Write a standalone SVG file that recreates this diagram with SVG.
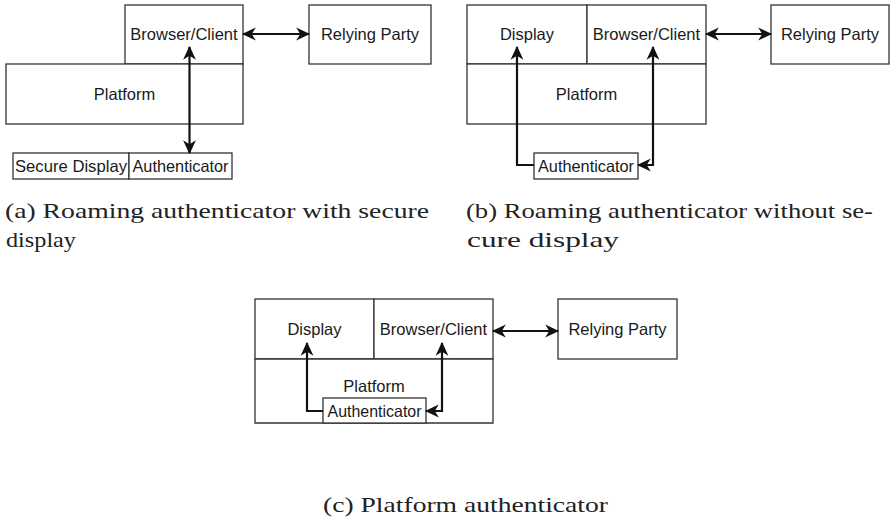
<svg xmlns="http://www.w3.org/2000/svg" width="895" height="522" viewBox="0 0 895 522">
<style>
.box{fill:#fff;stroke:#333;stroke-width:1.3}
.lbl{font-family:"Liberation Sans",Arial,sans-serif;font-size:16.5px;fill:#1a1a1a;text-anchor:middle}
.cap{font-family:"Liberation Serif","Times New Roman",serif;font-size:21px;fill:#222}
.con{fill:none;stroke:#111;stroke-width:2.2;marker-start:url(#ah);marker-end:url(#ah)}
.con1{fill:none;stroke:#111;stroke-width:2.2;marker-end:url(#ah)}
</style>
<defs>
<marker id="ah" markerUnits="userSpaceOnUse" markerWidth="14" markerHeight="14" viewBox="0 0 12 12" refX="11" refY="6" orient="auto-start-reverse">
<path d="M0,0.5 L12,6 L0,11.5 L3.5,6 z" fill="#111"/>
</marker>
</defs>
<rect width="895" height="522" fill="#fff"/>

<!-- Panel (a) -->
<g id="a-browser"><rect class="box" x="125" y="5" width="118" height="59"/><text class="lbl" x="184" y="40">Browser/Client</text></g>
<g id="a-platform"><rect class="box" x="6" y="64" width="237" height="60"/><text class="lbl" x="124.5" y="100">Platform</text></g>
<g id="a-rp"><rect class="box" x="309" y="5" width="122" height="59"/><text class="lbl" x="370" y="40">Relying Party</text></g>
<g id="a-securedisplay"><rect class="box" x="13" y="153" width="116" height="26"/><text class="lbl" x="71" y="172" textLength="112" lengthAdjust="spacingAndGlyphs">Secure Display</text></g>
<g id="a-auth"><rect class="box" x="129" y="153" width="103" height="26"/><text class="lbl" x="180.5" y="172" textLength="96" lengthAdjust="spacingAndGlyphs">Authenticator</text></g>

<!-- Panel (b) -->
<g id="b-display"><rect class="box" x="467" y="5" width="120" height="59"/><text class="lbl" x="527" y="40">Display</text></g>
<g id="b-browser"><rect class="box" x="587" y="5" width="119" height="59"/><text class="lbl" x="646.5" y="40">Browser/Client</text></g>
<g id="b-platform"><rect class="box" x="467" y="64" width="239" height="60"/><text class="lbl" x="586.5" y="100">Platform</text></g>
<g id="b-rp"><rect class="box" x="771" y="5" width="118" height="59"/><text class="lbl" x="830" y="40">Relying Party</text></g>
<g id="b-auth"><rect class="box" x="534" y="153" width="104" height="26"/><text class="lbl" x="586" y="172" textLength="96" lengthAdjust="spacingAndGlyphs">Authenticator</text></g>

<!-- Panel (c) -->
<g id="c-display"><rect class="box" x="255" y="299" width="119" height="60"/><text class="lbl" x="314.5" y="335">Display</text></g>
<g id="c-browser"><rect class="box" x="374" y="299" width="119" height="60"/><text class="lbl" x="433.5" y="335">Browser/Client</text></g>
<g id="c-platform"><path class="box" d="M255,359 H493 V423 H255 Z"/><text class="lbl" x="374" y="392">Platform</text></g>
<g id="c-rp"><rect class="box" x="558" y="299" width="119" height="60"/><text class="lbl" x="617.5" y="335">Relying Party</text></g>
<g id="c-auth"><rect class="box" x="323" y="398" width="103" height="25"/><text class="lbl" x="374.5" y="416.5" textLength="94" lengthAdjust="spacingAndGlyphs">Authenticator</text></g>

<g id="connectors">
<path class="con" d="M243,34 H309"/>
<path class="con" d="M189.5,47 V153"/>
<path class="con" d="M706,34 H771"/>
<path class="con1" d="M534,165 H517 V47"/>
<path class="con" d="M653,47 V165 H638"/>
<path class="con" d="M493,331 H558"/>
<path class="con1" d="M323,411 H307 V343"/>
<path class="con" d="M442,343 V411 H426"/>
</g>

<g id="captions">
<text class="cap" x="5" y="218" textLength="424" lengthAdjust="spacingAndGlyphs">(a) Roaming authenticator with secure</text>
<text class="cap" x="6" y="247" textLength="70" lengthAdjust="spacingAndGlyphs">display</text>
<text class="cap" x="466" y="218" textLength="407" lengthAdjust="spacingAndGlyphs">(b) Roaming authenticator without se-</text>
<text class="cap" x="467" y="247" textLength="152" lengthAdjust="spacingAndGlyphs">cure display</text>
<text class="cap" x="323" y="512" textLength="285" lengthAdjust="spacingAndGlyphs">(c) Platform authenticator</text>
</g>
</svg>
